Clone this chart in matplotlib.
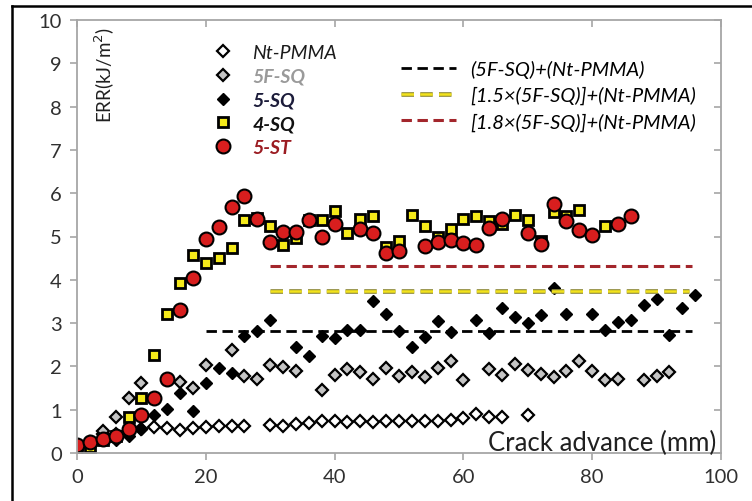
import matplotlib.pyplot as plt
from matplotlib.legend_handler import HandlerTuple
from matplotlib.lines import Line2D

plt.rcParams['font.family'] = ['Lato', 'DejaVu Sans']
plt.rcParams['lines.scale_dashes'] = False

# data (crack advance in mm, ERR in kJ/m2)
nt_x = [0, 2, 4, 6, 8, 10, 12, 14, 16, 18, 20, 22, 24, 26, 30, 32, 34, 36, 38, 40,
        42, 44, 46, 48, 50, 52, 54, 56, 58, 60, 62, 64, 66, 70]
nt_y = [0.1, 0.2, 0.45, 0.45, 0.5, 0.55, 0.6, 0.58, 0.53, 0.58, 0.6, 0.62, 0.62, 0.62,
        0.65, 0.62, 0.67, 0.7, 0.73, 0.73, 0.72, 0.75, 0.72, 0.73, 0.73, 0.74, 0.74,
        0.75, 0.76, 0.8, 0.9, 0.82, 0.82, 0.88]

f5_x = [2, 4, 6, 8, 10, 16, 18, 20, 24, 26, 28, 30, 32, 34, 38, 40, 42, 44, 46, 48,
        50, 52, 54, 56, 58, 60, 64, 66, 68, 70, 72, 74, 76, 78, 80, 82, 84, 88, 90, 92]
f5_y = [0.25, 0.5, 0.83, 1.27, 1.62, 1.63, 1.5, 2.03, 2.37, 1.77, 1.72, 2.03, 1.98,
        1.9, 1.45, 1.8, 1.95, 1.88, 1.72, 1.97, 1.78, 1.87, 1.75, 1.97, 2.13, 1.68,
        1.95, 1.8, 2.05, 1.92, 1.83, 1.76, 1.9, 2.13, 1.9, 1.68, 1.7, 1.68, 1.78, 1.87]

sq5_x = [0, 2, 4, 6, 8, 10, 12, 14, 16, 18, 20, 22, 24, 26, 28, 30,
         34, 36, 38, 40, 42, 44, 46, 48, 50, 52, 54, 56, 58,
         62, 64, 66, 68, 70, 72, 74, 76,
         80, 82, 84, 86, 88, 90, 92, 94, 96]
sq5_y = [0.1, 0.2, 0.3, 0.3, 0.4, 0.55, 0.87, 1.02, 1.38, 0.97, 1.62, 1.97, 1.85, 2.7, 2.82, 3.08,
         2.45, 2.25, 2.7, 2.65, 2.83, 2.85, 3.5, 3.22, 2.82, 2.45, 2.68, 3.05, 2.8,
         3.08, 2.78, 3.35, 3.15, 3.0, 3.18, 3.8, 3.22,
         3.22, 2.85, 3.02, 3.08, 3.42, 3.55, 2.72, 3.35, 3.65]

sq4_x = [0, 2, 4, 6, 8, 10, 12, 14, 16, 18, 20, 22, 24, 26, 28, 30, 32, 34, 36, 38,
         40, 42, 44, 46, 48, 50, 52, 54, 56, 58, 60, 62, 64, 66, 68, 70, 72, 74, 76, 78, 82]
sq4_y = [0.1, 0.15, 0.3, 0.4, 0.82, 1.27, 2.27, 3.22, 3.92, 4.57,
         4.38, 4.5, 4.73, 5.38, 5.42, 5.25, 4.8, 4.97, 5.38, 5.38,
         5.6, 5.07, 5.4, 5.47, 4.75, 4.9, 5.5, 5.25, 5.0, 5.18,
         5.4, 5.47, 5.35, 5.3, 5.5, 5.37, 4.9, 5.57, 5.48, 5.62, 5.25]

st5_x = [0, 2, 4, 6, 8, 10, 12, 14, 16, 18, 20, 22, 24, 26, 28, 30, 32, 34, 36, 38, 40,
         44, 46, 48, 50, 54, 56, 58, 60, 62, 64, 66, 70, 72, 74, 76, 78, 80, 84, 86]
st5_y = [0.18, 0.26, 0.32, 0.4, 0.55, 0.87, 1.27, 1.72, 3.3, 4.05,
         4.95, 5.22, 5.68, 5.93, 5.4, 4.87, 5.1, 5.1, 5.38, 4.98, 5.3,
         5.18, 5.07, 4.63, 4.66, 4.78, 4.88, 4.93, 4.85, 4.8, 5.2, 5.4,
         5.07, 4.82, 5.75, 5.35, 5.15, 5.03, 5.3, 5.48]

# predicted levels: value, start, end
ref_black = [2.82, 20, 95.5]
ref_yellow = [3.74, 30, 95]
ref_red = [4.32, 30, 95.5]

fig = plt.figure(figsize=(7.52, 5.02), dpi=100)
ax = fig.add_axes([77 / 752, 48 / 502, 644 / 752, 433 / 502])

p1, = ax.plot(nt_x, nt_y, 'D', ms=6.3, mfc='white', mec='black', mew=1.6, ls='none', label='Nt-PMMA')
p2, = ax.plot(f5_x, f5_y, 'D', ms=6.3, mfc='#c4c4c4', mec='black', mew=1.6, ls='none', label='5F-SQ')
p3, = ax.plot(sq5_x, sq5_y, 'D', ms=6.5, mfc='black', mec='black', mew=1.0, ls='none', label='5-SQ')
p4, = ax.plot(sq4_x, sq4_y, 's', ms=7.2, mfc='#f5ea1a', mec='black', mew=2.0, ls='none', label='4-SQ')
p5, = ax.plot(st5_x, st5_y, 'o', ms=10, mfc='#d81e1e', mec='black', mew=1.5, ls='none', label='5-ST')

l1, = ax.plot(ref_black[1:], [ref_black[0]] * 2, color='black', lw=2.0, dashes=(7.5, 4), zorder=5)
l2a, = ax.plot(ref_yellow[1:], [ref_yellow[0]] * 2, color='#8f8a3a', lw=3.4, dashes=(9, 4.5), zorder=5)
l2b, = ax.plot(ref_yellow[1:], [ref_yellow[0]] * 2, color='#f2e21c', lw=1.8, dashes=(9, 4.5), zorder=6)
l3, = ax.plot(ref_red[1:], [ref_red[0]] * 2, color='#a3262c', lw=2.2, dashes=(7.5, 4), zorder=5)

ax.set_xlim(0, 100)
ax.set_ylim(0, 10)
ax.set_xticks(range(0, 101, 20))
ax.set_yticks(range(0, 11))
for s in ax.spines.values():
    s.set_color('#a6a6a6')
    s.set_linewidth(1.3)
ax.tick_params(axis='both', direction='out', length=5, width=1.2, color='#a6a6a6',
               labelsize=14.5, labelcolor='#303030', pad=6)
top = ax.secondary_xaxis('top')
top.set_xticks(range(0, 101, 20))
top.tick_params(direction='in', length=5, width=1.2, color='#a6a6a6', labeltop=False)
top.spines['top'].set_visible(False)
right = ax.secondary_yaxis('right')
right.set_yticks(range(0, 11))
right.tick_params(direction='in', length=5, width=1.2, color='#a6a6a6', labelright=False)
right.spines['right'].set_visible(False)

ax.text(0.043, 0.986, 'ERR(kJ/m$^2$)', transform=ax.transAxes, rotation=90,
        ha='center', va='top', fontsize=13.5, color='#202020')
ax.text(0.993, -0.004, 'Crack advance (mm)', transform=ax.transAxes,
        ha='right', va='bottom', fontsize=18.5, color='#202020')

leg1 = ax.legend(handles=[p1, p2, p3, p4, p5], loc='upper left', bbox_to_anchor=(0.212, 0.944),
                 frameon=False, borderpad=0, borderaxespad=0,
                 handlelength=1.0, handletextpad=1.0, labelspacing=0.34,
                 prop={'size': 14, 'style': 'italic'})
colors = ['#1a1a1a', '#9a9a9a', '#1c1c3a', '#111111', '#9b1c22']
weights = ['normal', 'bold', 'bold', 'bold', 'bold']
for t, c, w in zip(leg1.get_texts(), colors, weights):
    t.set_color(c)
    t.set_fontweight(w)
ax.add_artist(leg1)

leg2 = ax.legend(handles=[l1, (l2a, l2b), l3],
                 labels=['(5F-SQ)+(Nt-PMMA)', '[1.5×(5F-SQ)]+(Nt-PMMA)', '[1.8×(5F-SQ)]+(Nt-PMMA)'],
                 handler_map={tuple: HandlerTuple(ndivide=1)},
                 loc='upper left', bbox_to_anchor=(0.503, 0.908), frameon=False,
                 borderpad=0, borderaxespad=0,
                 handlelength=2.75, handletextpad=0.7, labelspacing=0.4,
                 prop={'size': 14.5, 'style': 'italic'})

# outer frame (only left and top visible in the crop)
fig.add_artist(Line2D([12 / 752, 12 / 752], [0, 1 - 7 / 502], color='black', lw=1.8))
fig.add_artist(Line2D([12 / 752, 1], [1 - 7 / 502, 1 - 7 / 502], color='black', lw=1.8))

fig.savefig('out.png', dpi=100)
